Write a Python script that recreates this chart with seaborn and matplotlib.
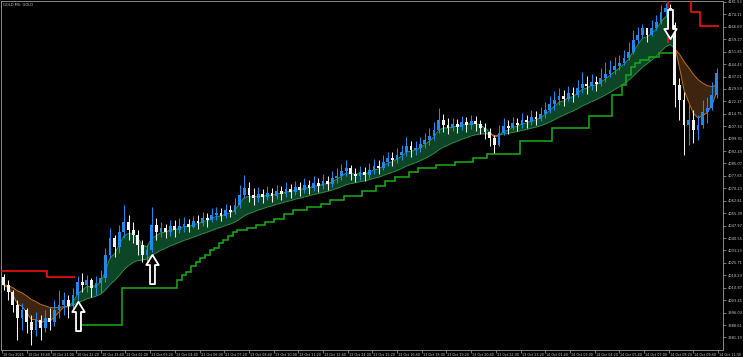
import numpy as np
import pandas as pd
import matplotlib
matplotlib.use("Agg")
import matplotlib.pyplot as plt
from matplotlib.path import Path
from matplotlib.collections import LineCollection
from matplotlib.transforms import ScaledTranslation
import seaborn as sns

# ---------------- data (15-minute candles) ----------------
title = "GOLD,M5: GOLD"
first_open = 4017.3
close = [4012.6, 4008.4, 4000.6, 3992.9, 3997.6, 3990.5, 3985.7, 3991.7, 3986.9, 3992.9,
         3990.5, 3997.6, 4000.6, 4003.6, 4000.0, 4006.6, 4014.3, 4012.6, 4015.5, 4010.8,
         4013.8, 4016.7, 4030.5, 4040.6, 4035.2, 4044.2, 4050.2, 4045.4, 4042.4, 4036.4,
         4030.5, 4033.5, 4048.4, 4044.2, 4046.6, 4044.2, 4047.8, 4045.4, 4047.8, 4049.0,
         4047.2, 4050.8, 4049.6, 4052.6, 4051.4, 4054.3, 4055.5, 4053.7, 4057.4, 4056.1,
         4060.3, 4066.3, 4070.5, 4066.3, 4064.5, 4066.9, 4065.1, 4067.5, 4065.7, 4068.7,
         4066.9, 4069.9, 4068.1, 4071.1, 4069.3, 4072.3, 4070.5, 4073.4, 4071.7, 4074.6,
         4072.9, 4076.4, 4077.6, 4080.6, 4082.4, 4078.8, 4077.6, 4080.0, 4078.2, 4081.2,
         4083.6, 4082.4, 4086.0, 4088.4, 4087.2, 4090.2, 4092.0, 4095.5, 4093.2, 4094.3,
         4096.7, 4099.1, 4101.5, 4105.1, 4111.1, 4108.1, 4106.3, 4108.7, 4106.9, 4109.9,
         4108.1, 4110.5, 4108.7, 4106.3, 4103.9, 4100.3, 4096.1, 4103.3, 4107.5, 4106.3,
         4109.3, 4108.1, 4111.1, 4109.9, 4112.8, 4111.7, 4114.6, 4117.0, 4120.6, 4123.0,
         4125.4, 4123.6, 4127.2, 4126.0, 4130.2, 4132.6, 4131.4, 4133.7, 4132.6, 4136.1,
         4138.5, 4140.9, 4143.3, 4145.1, 4148.1, 4151.7, 4158.8, 4161.8, 4166.0, 4161.8,
         4166.0, 4169.6, 4175.5, 4177.9, 4167.8, 4132.0, 4123.0, 4108.1, 4111.1, 4105.1,
         4108.1, 4115.8, 4118.2, 4126.0, 4139.1]
high = [4019.1, 4015.5, 4009.6, 4003.6, 4001.8, 3998.8, 3994.6, 3996.4, 3994.6, 3997.6,
        3998.8, 4003.6, 4009.6, 4008.4, 4006.6, 4010.8, 4017.9, 4019.7, 4018.5, 4016.7,
        4017.9, 4021.5, 4034.6, 4046.6, 4042.4, 4048.4, 4060.3, 4054.3, 4050.2, 4045.4,
        4039.4, 4036.4, 4059.1, 4052.6, 4050.2, 4049.0, 4051.4, 4051.4, 4052.6, 4053.2,
        4052.0, 4053.7, 4054.3, 4056.1, 4055.5, 4058.5, 4059.1, 4058.5, 4060.9, 4060.3,
        4064.5, 4072.3, 4078.2, 4074.0, 4070.5, 4071.1, 4069.9, 4071.7, 4070.5, 4072.3,
        4071.7, 4074.0, 4072.9, 4074.6, 4074.0, 4076.4, 4075.2, 4077.6, 4076.4, 4078.8,
        4077.6, 4080.6, 4082.4, 4084.8, 4087.2, 4084.2, 4082.4, 4083.6, 4083.0, 4085.4,
        4087.8, 4087.2, 4090.2, 4092.0, 4092.0, 4094.3, 4096.1, 4100.9, 4098.5, 4098.5,
        4100.9, 4103.3, 4106.3, 4109.9, 4118.2, 4114.6, 4112.3, 4112.3, 4111.7, 4113.4,
        4112.8, 4114.0, 4113.4, 4111.1, 4109.3, 4106.3, 4102.1, 4108.1, 4112.3, 4111.1,
        4112.8, 4112.3, 4115.2, 4114.0, 4117.0, 4116.4, 4118.8, 4121.8, 4125.4, 4128.4,
        4130.2, 4129.0, 4131.4, 4130.8, 4135.0, 4139.7, 4137.3, 4138.5, 4137.3, 4142.1,
        4145.7, 4146.9, 4148.7, 4149.9, 4152.9, 4157.6, 4164.8, 4166.6, 4168.4, 4166.0,
        4170.8, 4173.7, 4179.7, 4180.9, 4180.3, 4169.6, 4136.1, 4127.8, 4120.0, 4117.0,
        4114.0, 4123.0, 4124.8, 4133.7, 4142.1]
low = [4009.6, 4003.6, 3996.4, 3979.7, 3985.7, 3983.9, 3976.7, 3982.1, 3979.7, 3984.5,
       3985.7, 3988.1, 3992.9, 3994.6, 3992.9, 3996.4, 4003.6, 4008.4, 4008.4, 4005.4,
       4006.6, 4007.8, 4014.3, 4028.7, 4029.3, 4031.7, 4040.6, 4039.4, 4037.6, 4030.5,
       4026.3, 4025.7, 4032.3, 4039.4, 4041.2, 4040.6, 4041.8, 4041.2, 4043.6, 4044.2,
       4044.2, 4046.6, 4046.0, 4047.8, 4047.2, 4050.2, 4051.4, 4050.8, 4052.6, 4053.2,
       4054.9, 4058.5, 4064.5, 4062.1, 4060.3, 4062.1, 4061.5, 4063.3, 4062.1, 4063.9,
       4063.3, 4065.1, 4064.5, 4066.3, 4065.7, 4067.5, 4066.9, 4068.7, 4068.1, 4069.9,
       4069.3, 4071.1, 4073.4, 4075.2, 4077.6, 4075.2, 4074.0, 4075.2, 4074.6, 4076.4,
       4078.8, 4078.8, 4081.2, 4083.6, 4083.6, 4085.4, 4087.2, 4089.6, 4089.0, 4090.2,
       4092.0, 4094.3, 4096.1, 4099.1, 4103.3, 4103.9, 4102.7, 4104.5, 4103.3, 4105.1,
       4103.9, 4105.7, 4104.5, 4102.7, 4099.7, 4095.5, 4091.4, 4095.5, 4102.1, 4102.7,
       4105.1, 4104.5, 4106.3, 4106.3, 4108.1, 4108.1, 4110.5, 4112.3, 4115.2, 4117.0,
       4120.0, 4119.4, 4122.4, 4121.8, 4124.8, 4127.2, 4126.6, 4129.0, 4128.4, 4131.4,
       4133.7, 4136.7, 4138.5, 4140.9, 4143.9, 4146.9, 4150.5, 4157.0, 4160.0, 4157.6,
       4161.2, 4164.8, 4168.5, 4173.1, 4164.8, 4118.8, 4111.1, 4090.2, 4096.1, 4097.3,
       4099.1, 4106.3, 4109.3, 4117.0, 4124.0]

# trailing stop lines: (segment start candle, level), plus end candle (exclusive)
green_stop_start = [16, 26, 38, 39, 40, 41, 42, 43, 44, 45, 46, 47, 48, 49, 50, 51, 53, 55,
                    57, 59, 61, 63, 66, 69, 71, 74, 78, 81, 83, 85, 88, 90, 94, 98, 102, 105,
                    112, 119, 127, 132, 134, 135, 136, 137, 138, 140, 142]
green_stop_level = [3988.7, 4010.8, 4015.5, 4018.5, 4020.3, 4023.9, 4026.3, 4028.7, 4030.5,
                    4033.5, 4034.6, 4037.6, 4039.4, 4041.8, 4044.2, 4045.4, 4046.6, 4048.4,
                    4050.2, 4052.0, 4054.9, 4057.4, 4059.1, 4060.9, 4063.3, 4065.7, 4068.7,
                    4071.7, 4074.6, 4077.0, 4080.0, 4082.4, 4084.2, 4086.0, 4088.4, 4090.5,
                    4098.5, 4106.3, 4113.4, 4126.0, 4132.0, 4137.9, 4142.7, 4145.1, 4146.9,
                    4148.7, 4151.1]
green_stop_end = 145
red_stop_left_start = [0, 10]
red_stop_left_level = [4020.9, 4017.3]
red_stop_left_end = 16
red_stop_right_start = [144, 149, 151]
red_stop_right_level = [4192.0, 4175.5, 4167.2]
red_stop_right_end = 155
red_stop_right_from = 4157.0   # level the red line rises from at the reversal

# signal arrows
signal_candle = [16, 32, 144]
signal_price = [3994.1, 4022.1, 4168.4]
signal_dir = ["up", "up", "down"]

price_ticks = [3981.19, 3988.61, 3996.03, 4003.45, 4010.87, 4018.29, 4025.71, 4033.13,
               4040.55, 4047.97, 4055.39, 4062.81, 4070.23, 4077.65, 4085.07, 4092.49,
               4099.91, 4107.33, 4114.75, 4122.17, 4129.59, 4137.01, 4144.43, 4151.85,
               4159.27, 4166.69, 4174.11, 4181.53]
time_labels = ["10 Oct 2025", "10 Oct 19:40", "10 Oct 21:00", "10 Oct 22:20", "10 Oct 23:40",
               "13 Oct 02:00", "13 Oct 03:20", "13 Oct 04:40", "13 Oct 06:00", "13 Oct 07:20",
               "13 Oct 08:40", "13 Oct 10:00", "13 Oct 11:20", "13 Oct 12:40", "13 Oct 14:00",
               "13 Oct 15:20", "13 Oct 16:40", "13 Oct 18:00", "13 Oct 19:20", "13 Oct 20:40",
               "13 Oct 22:00", "13 Oct 23:20", "14 Oct 01:40", "14 Oct 03:00", "14 Oct 04:20",
               "14 Oct 05:40", "14 Oct 07:00", "14 Oct 08:20", "14 Oct 09:40", "14 Oct 11:00"]
bars_per_label = 16     # M5 bars between time labels
bars_per_candle = 3     # M5 bars per drawn candle
fast_span, slow_span = 4, 18

# ---------------- style ----------------
sns.set_style("dark", {"axes.facecolor": "black", "figure.facecolor": "black",
                       "axes.edgecolor": "#8a8a8a", "axes.grid": False})
plt.rcParams["font.family"] = ["DejaVu Sans"]

BULL = "#2089ee"
BEAR = "#f2f2f2"
CLOUD_G = "#0c4626"
CLOUD_B = "#3e2510"
LINE_G = "#2f8c48"
LINE_B = "#c46f1c"
TXT = "#c6c6c6"
FS = 2.4

df = pd.DataFrame({"close": close, "high": high, "low": low})
df["i"] = np.arange(len(df))
df["open"] = [first_open] + close[:-1]
df["high"] = df[["high", "open", "close"]].max(axis=1)
df["low"] = df[["low", "open", "close"]].min(axis=1)
fast = df["close"].ewm(span=fast_span, adjust=False).mean().to_numpy()
slow = df["close"].ewm(span=slow_span, adjust=False).mean().to_numpy()
x = df["i"].to_numpy(dtype=float)
bull = fast >= slow

fig = plt.figure(figsize=(7.43, 3.57), dpi=100)
ax = fig.add_axes([1 / 743, 7 / 357, 722 / 743, 349 / 357])
ax.set_facecolor("black")

# cloud
ax.fill_between(x, fast, slow, where=bull, interpolate=True, color=CLOUD_G, lw=0, zorder=1)
ax.fill_between(x, fast, slow, where=~bull, interpolate=True, color=CLOUD_B, lw=0, zorder=1)
for line in (fast, slow):
    segs = np.stack([np.column_stack([x[:-1], line[:-1]]), np.column_stack([x[1:], line[1:]])], axis=1)
    cols = [LINE_G if b else LINE_B for b in bull[1:]]
    ax.add_collection(LineCollection(segs, colors=cols, linewidths=0.7, zorder=2))


def stairs_from(starts, levels, end, color):
    lengths = np.diff(list(starts) + [end])
    vals = np.repeat(levels, lengths)
    edges = np.arange(starts[0], end + 1) - 0.5
    ax.stairs(vals, edges, baseline=None, color=color, lw=1.15, zorder=3)


stairs_from(green_stop_start, green_stop_level, green_stop_end, "#17a817")
stairs_from(red_stop_left_start, red_stop_left_level, red_stop_left_end, "#ff1010")
stairs_from(red_stop_right_start, red_stop_right_level, red_stop_right_end, "#ff1010")
ax.vlines(red_stop_right_start[0] - 0.5, red_stop_right_from, red_stop_right_level[0],
          color="#ff1010", lw=1.15, zorder=3)

# candles
colors = np.where(df["close"] >= df["open"], BULL, BEAR)
ax.vlines(df["i"], df["low"], df["high"], colors=colors, lw=0.75, zorder=4)
body_lo = np.minimum(df["open"], df["close"])
body_h = np.maximum(np.abs(df["close"] - df["open"]), 0.35)
ax.bar(df["i"], body_h, bottom=body_lo, width=0.6, color=colors, lw=0, zorder=4)

# arrows
up_verts = [(0, 1.3), (0.55, 0.4), (0.22, 0.4), (0.22, -1.3), (-0.22, -1.3), (-0.22, 0.4),
            (-0.55, 0.4), (0, 1.3)]
up_path = Path(up_verts, [Path.MOVETO] + [Path.LINETO] * 6 + [Path.CLOSEPOLY])
down_path = Path([(vx, -vy) for vx, vy in up_verts], up_path.codes)
sig = pd.DataFrame({"i": signal_candle, "price": signal_price, "dir": signal_dir})
for d, mk in (("up", up_path), ("down", down_path)):
    sub = sig[sig["dir"] == d]
    sns.scatterplot(data=sub, x="i", y="price", marker=mk, s=21 ** 2, color="black",
                    edgecolor="white", linewidth=1.3, zorder=6, ax=ax, legend=False)

# axes
ax.set_xlim(-0.54, 155.4)
ax.set_ylim(3973.7, 4182.1)
ax.set_xlabel("")
ax.set_ylabel("")
ax.yaxis.tick_right()
ax.set_yticks(price_ticks)
ax.set_yticklabels([f"{v:.2f}" for v in price_ticks])
tick_pos = [(bars_per_label * k - 1) / bars_per_candle for k in range(len(time_labels))]
ax.set_xticks(tick_pos)
ax.set_xticklabels(time_labels, ha="left")
ax.tick_params(axis="y", which="both", colors="#8a8a8a", labelcolor=TXT, length=2.2,
               width=0.6, labelsize=FS + 0.2, pad=1.0, right=True, left=False)
ax.tick_params(axis="x", which="both", colors="#8a8a8a", labelcolor=TXT, length=2.0,
               width=0.6, labelsize=FS, pad=0.4, bottom=True)
off = ScaledTranslation(1.0 / 100, 0, fig.dpi_scale_trans)
for lbl in ax.get_xticklabels():
    lbl.set_transform(lbl.get_transform() + off)
for sp in ax.spines.values():
    sp.set_visible(True)
    sp.set_color("#8a8a8a")
    sp.set_linewidth(0.7)

fig.text(3 / 743, 1 - 4.5 / 357, title, fontsize=FS + 0.2, color=TXT, va="center", ha="left")

fig.savefig("out.png", dpi=100, facecolor="black")
